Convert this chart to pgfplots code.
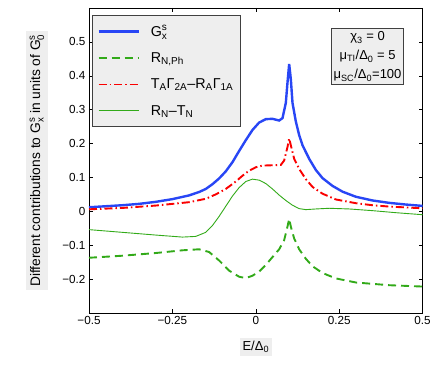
\documentclass[border=0pt]{standalone}
\usepackage{fontspec}
\setmainfont{Liberation Sans}
\usepackage{amsmath}
\usepackage{pgfplots}
\pgfplotsset{compat=1.18}

\definecolor{gblue}{RGB}{40,70,245}
\definecolor{gred}{RGB}{250,0,0}
\definecolor{ggreen}{RGB}{50,170,25}
\definecolor{boxgray}{RGB}{238,238,238}
\tikzset{
  gdash/.style={dash pattern=on 8pt off 5pt},
  gdashdot/.style={dash pattern=on 8pt off 3pt on 1.5pt off 3pt},
}

\begin{document}
\begin{tikzpicture}[x=1pt,y=1pt]
\path[use as bounding box] (-89,-53) rectangle (347,313);
\begin{axis}[
  at={(0,0)}, anchor=south west,
  scale only axis, width=333.6pt, height=305pt,
  xmin=-0.5, xmax=0.5, ymin=-0.3, ymax=0.6,
  xtick={-0.5,-0.25,0,0.25,0.5},
  xticklabels={−0.5,−0.25,0,0.25,0.5},
  ytick={-0.2,-0.1,0,0.1,0.2,0.3,0.4,0.5},
  yticklabels={−0.2,−0.1,0,0.1,0.2,0.3,0.4,0.5},
  tick label style={font=\fontsize{11.7}{13}\selectfont},
  major tick length=4pt,
  tick style={black, line width=0.5pt},
  axis line style={line width=0.8pt},
  xlabel={E/Δ$_{\text{0}}$},
  xlabel style={at={(axis description cs:0.5,-0.112)}, anchor=center, fill=boxgray, inner sep=3pt, font=\fontsize{13}{14}\selectfont},
  ylabel={Different contributions to G$^{\text{s}}_{\text{x}}$ in units of G$^{\text{s}}_{\text{0}}$},
  ylabel style={at={(axis description cs:-0.156,0.5)}, anchor=center, fill=boxgray, inner sep=3.5pt, font=\fontsize{13.8}{15}\selectfont},
  legend cell align=left,
  legend style={at={(rel axis cs:0.009,0.977)}, anchor=north west, fill=boxgray, draw=black!75, line width=0.8pt,
    font=\fontsize{14.3}{15}\selectfont, row sep=11pt, column sep=9pt, inner xsep=5pt, inner ysep=8pt},
  legend image code/.code={\draw[#1] plot coordinates {(0pt,0pt) (20pt,0pt) (40pt,0pt)};},
]
\addplot[gblue, line width=2.4pt] coordinates {
(-0.5,0.012) (-0.45,0.015) (-0.4,0.018) (-0.35,0.022) (-0.3,0.028) (-0.25,0.036)
(-0.2,0.047) (-0.17,0.057) (-0.15,0.066) (-0.13,0.08) (-0.11,0.097) (-0.09,0.118)
(-0.07,0.145) (-0.05,0.178) (-0.03,0.21) (-0.01,0.24) (0.01,0.262) (0.03,0.272)
(0.05,0.273) (0.07,0.268) (0.08,0.275) (0.09,0.32) (0.095,0.38) (0.1,0.435)
(0.105,0.39) (0.11,0.32) (0.12,0.265) (0.13,0.225) (0.14,0.195) (0.16,0.155)
(0.18,0.122) (0.2,0.098) (0.23,0.075) (0.26,0.058) (0.3,0.043) (0.35,0.032)
(0.4,0.025) (0.45,0.02) (0.5,0.016)
};
\addlegendentry{G$^{\text{s}}_{\text{x}}$}
\addplot[color=ggreen, line width=1.9pt, gdash] coordinates {
(-0.5,-0.137) (-0.4,-0.131) (-0.3,-0.123) (-0.22,-0.115) (-0.17,-0.112) (-0.14,-0.12)
(-0.11,-0.145) (-0.08,-0.175) (-0.05,-0.193) (-0.03,-0.197) (-0.01,-0.19) (0.01,-0.178)
(0.03,-0.158) (0.05,-0.135) (0.07,-0.112) (0.085,-0.085) (0.095,-0.045) (0.1,-0.022)
(0.105,-0.045) (0.115,-0.08) (0.13,-0.112) (0.15,-0.14) (0.17,-0.162) (0.2,-0.182)
(0.24,-0.198) (0.3,-0.21) (0.4,-0.218) (0.5,-0.222)
};
\addlegendentry{R$_{\text{N,Ph}}$}
\addplot[color=gred, line width=1.9pt, gdashdot] coordinates {
(-0.5,0.006) (-0.4,0.01) (-0.3,0.017) (-0.2,0.027) (-0.15,0.037) (-0.12,0.05)
(-0.09,0.066) (-0.06,0.088) (-0.04,0.105) (-0.02,0.12) (0,0.13) (0.02,0.135)
(0.05,0.136) (0.075,0.137) (0.085,0.15) (0.095,0.19) (0.1,0.215) (0.105,0.195)
(0.115,0.155) (0.13,0.125) (0.15,0.095) (0.17,0.072) (0.2,0.052) (0.24,0.035)
(0.3,0.024) (0.35,0.018) (0.4,0.014) (0.5,0.009)
};
\addlegendentry{T$_{\text{A}}$Γ$_{\text{2A}}$–R$_{\text{A}}$Γ$_{\text{1A}}$}
\addplot[color=ggreen, line width=0.9pt] coordinates {
(-0.5,-0.054) (-0.4,-0.062) (-0.3,-0.07) (-0.22,-0.076) (-0.18,-0.074) (-0.15,-0.062)
(-0.13,-0.042) (-0.11,-0.015) (-0.09,0.015) (-0.07,0.045) (-0.05,0.07) (-0.03,0.088)
(-0.01,0.095) (0.01,0.092) (0.03,0.082) (0.05,0.066) (0.07,0.048) (0.09,0.032)
(0.11,0.018) (0.13,0.008) (0.15,0.005) (0.18,0.007) (0.22,0.009) (0.28,0.007)
(0.35,0.002) (0.42,-0.004) (0.5,-0.01)
};
\addlegendentry{R$_{\text{N}}$–T$_{\text{N}}$}
\node[fill=boxgray, draw=black!75, line width=0.8pt, align=center, inner xsep=2pt, inner ysep=3pt,
  font=\fontsize{13}{19}\selectfont] at (rel axis cs:0.835,0.841)
  {χ$_{\text{3}}$ = 0\\μ$_{\text{TI}}$/Δ$_{\text{0}}$ = 5\\μ$_{\text{SC}}$/Δ$_{\text{0}}$=100};
\end{axis}
\end{tikzpicture}
\end{document}
